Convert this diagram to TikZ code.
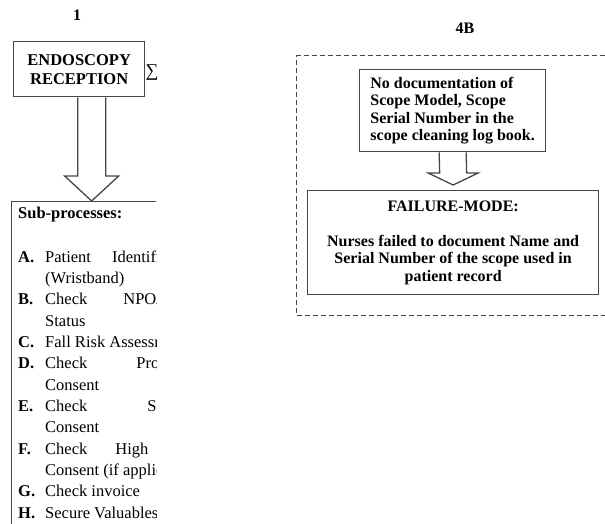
\documentclass[tikz,border=0pt]{standalone}
\usepackage{fontspec}
\setmainfont{Liberation Serif}
\usetikzlibrary{positioning,calc}
\definecolor{linegray}{RGB}{70,70,70}
\tikzset{
  stepbox/.style={draw=linegray, line width=1.3pt, fill=white, inner sep=0pt},
  framebox/.style={draw=linegray, line width=1pt, dash pattern=on 5pt off 3pt},
  hollow/.style={draw=linegray, line width=1.3pt, fill=white, line join=miter},
  heading/.style={font=\fontsize{16}{19}\selectfont\bfseries},
  leftbold/.style={font=\fontsize{16.5}{19}\selectfont\bfseries},
  itemtext/.style={anchor=base west, inner sep=0pt, font=\fontsize{16.5}{20}\selectfont},
  itemmark/.style={anchor=base west, inner sep=0pt, font=\fontsize{16.5}{20}\selectfont\bfseries},
  righttext/.style={font=\fontsize{16}{17.5}\selectfont\bfseries},
}
% hollow block arrow: from, to, half shaft, half head, head length
\newcommand{\blockarrow}[5]{%
  \draw[hollow] ($(#1)+(-#3,0)$) -- ($(#2)+(-#3,-#5)$) -- ($(#2)+(-#4,-#5)$) -- (#2)
    -- ($(#2)+(#4,-#5)$) -- ($(#2)+(#3,-#5)$) -- ($(#1)+(#3,0)$);}

\begin{document}
\begin{tikzpicture}[x=1pt, y=-1pt]
  \clip (0,0) rectangle (605,523);

  % Process 1: endoscopy reception
  \node[heading] (num1) at (77,15) {1};
  \node[stepbox, leftbold, minimum width=131pt, minimum height=55pt, align=center, anchor=north west] (endo) at (13,41) {ENDOSCOPY\\RECEPTION};
  \node[inner sep=0pt, font=\fontsize{18}{18}\selectfont] (sigma) at (152,73) {∑};

  % Sub-processes (cut off at the right)
  \begin{scope}
    \clip (0,190) rectangle (156,523);
    \node[stepbox, anchor=north west, minimum width=200pt, minimum height=340pt] (subs) at (11,201) {};
    \node[itemmark] (subhead) at (18,218) {Sub-processes:};
    \foreach \n/\mark in {0/A,2/B,4/C,5/D,7/E,9/F,11/G,12/H}
      \node[itemmark] (mark\n) at (18,262+21.35*\n) {\mark.};
    \foreach \txt [count=\n from 0] in {
        {Patient\hspace{21pt}Identification},
        {(Wristband)},
        {Check\hspace{36pt}NPO/Fasting},
        {Status},
        {Fall Risk Assessment},
        {Check\hspace{49pt}Procedure},
        {Consent},
        {Check\hspace{60pt}Sedation},
        {Consent},
        {Check\hspace{28pt}High\hspace{20pt}Risk},
        {Consent (if applicable)},
        {Check invoice},
        {Secure Valuables}}
      \node[itemtext] (item\n) at (45,262+21.35*\n) {\txt};
  \end{scope}

  % Arrow into sub-processes
  \coordinate (arr1top) at ($(endo.south)+(12.5,0)$);
  \coordinate (arr1tip) at (arr1top |- subs.north);
  \blockarrow{arr1top}{arr1tip}{14}{27}{25}

  % Process 4B
  \node[heading] (num4b) at (465,28) {4B};
  \node[framebox, anchor=north west, minimum width=340pt, minimum height=260pt] (frame) at (296,55) {};
  \node[stepbox, righttext, align=left, inner xsep=6pt, minimum width=186pt, minimum height=82pt, anchor=north west] (nodoc) at (359,69) {No documentation of\\Scope Model, Scope\\Serial Number in the\\scope cleaning log book.};
  \node[stepbox, righttext, align=center, minimum width=291pt, minimum height=104pt, anchor=north west] (fail) at (307,190) {FAILURE-MODE:\\[17pt]Nurses failed to document Name and\\Serial Number of the scope used in\\patient record};

  % Arrow to failure mode
  \coordinate (arr2tip) at ($(fail.north)+(0,-5)$);
  \blockarrow{nodoc.south}{arr2tip}{13.5}{25}{12}
\end{tikzpicture}
\end{document}
